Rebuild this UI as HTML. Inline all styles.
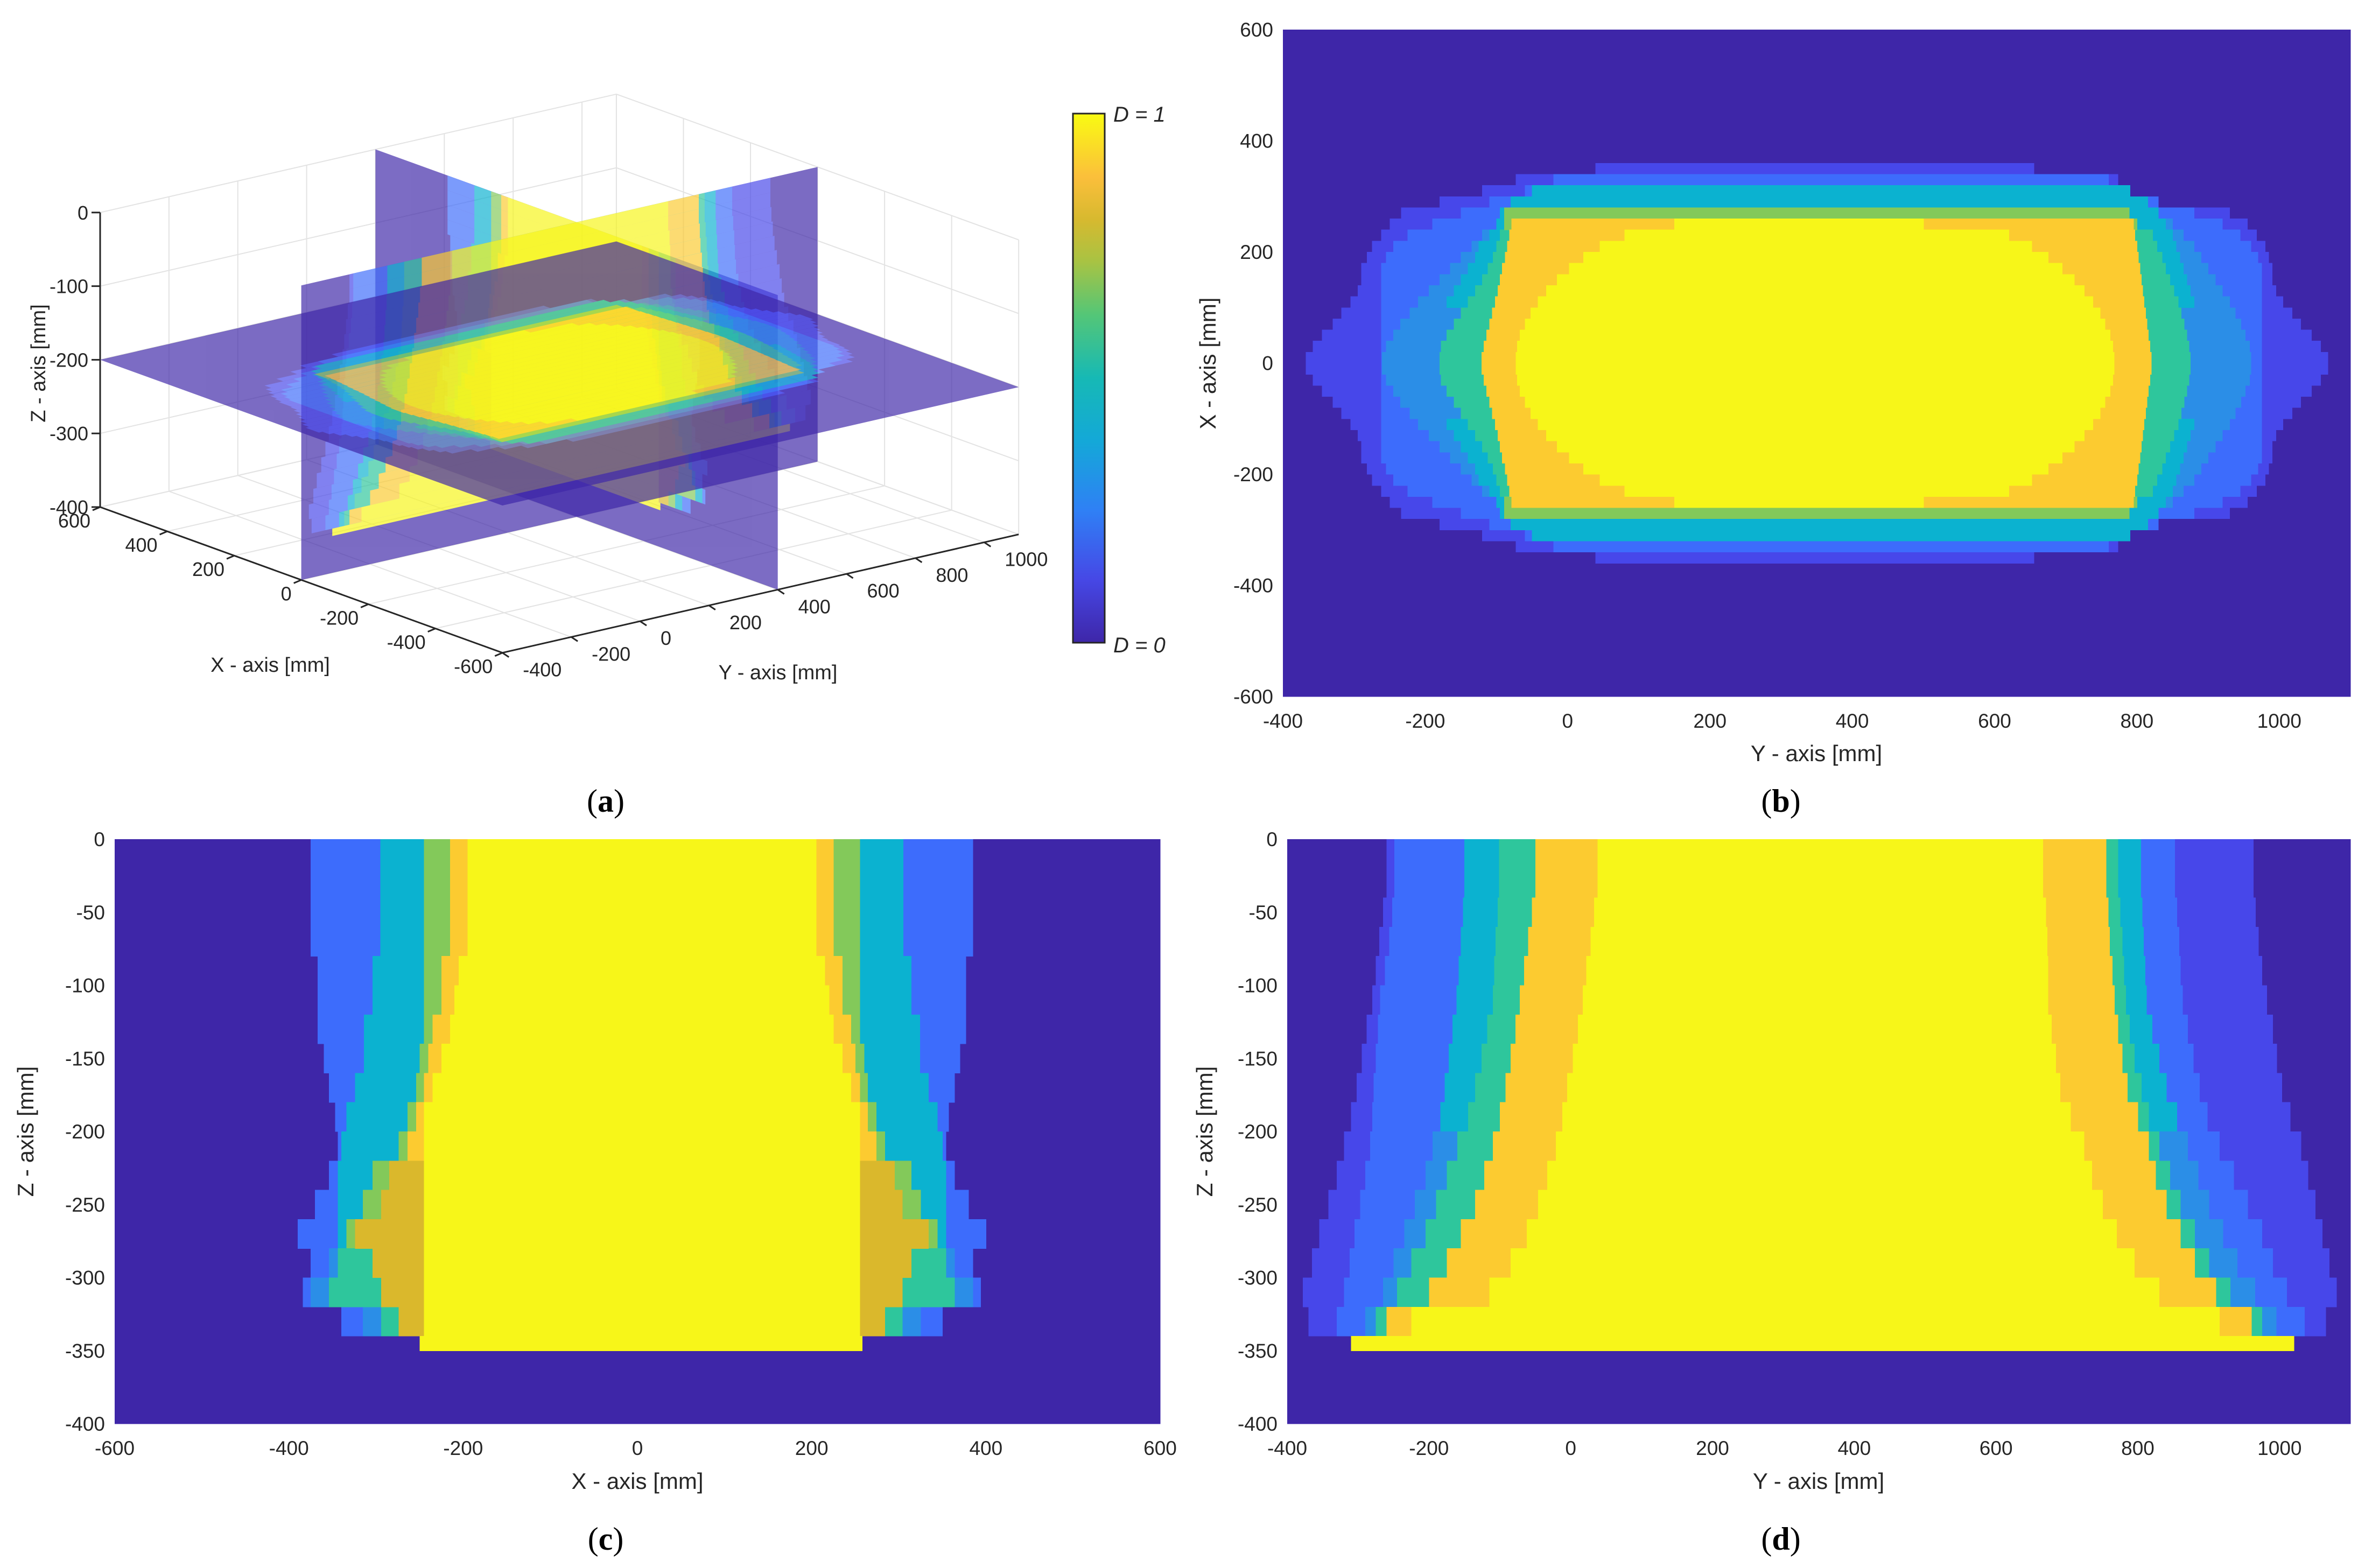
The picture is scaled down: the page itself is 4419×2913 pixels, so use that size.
<!DOCTYPE html>
<html><head><meta charset="utf-8">
<style>
html,body{margin:0;padding:0;background:#fff;}
svg{display:block;font-family:"Liberation Sans",sans-serif;}
</style></head>
<body>
<svg id="fig" xmlns="http://www.w3.org/2000/svg" width="4419" height="2913" viewBox="0 0 4419 2913">
<defs>
<linearGradient id="parula" x1="0" y1="1" x2="0" y2="0">
<stop offset="0" stop-color="#3e26a8"/><stop offset="0.12" stop-color="#4648e6"/>
<stop offset="0.25" stop-color="#2f80f5"/><stop offset="0.38" stop-color="#14a8d8"/>
<stop offset="0.5" stop-color="#16b9b5"/><stop offset="0.62" stop-color="#54c677"/>
<stop offset="0.72" stop-color="#a8c343"/><stop offset="0.8" stop-color="#d7b92f"/>
<stop offset="0.88" stop-color="#fbbf3b"/><stop offset="1" stop-color="#f9fb12"/>
</linearGradient>
</defs>
<g id="panelA"></g>
<g id="panelB" shape-rendering="crispEdges"></g>
<g id="panelC" shape-rendering="crispEdges"></g>
<g id="panelD" shape-rendering="crispEdges"></g>
<rect x="1993" y="211" width="59" height="983" fill="url(#parula)" stroke="#262626" stroke-width="3"/>
<text x="2068" y="226" font-size="40" font-style="italic" fill="#262626">D = 1</text>
<text x="2068" y="1212" font-size="40" font-style="italic" fill="#262626">D = 0</text>
<text x="1125" y="1508" font-size="60" text-anchor="middle" font-family="Liberation Serif,serif">(<tspan font-weight="bold">a</tspan>)</text>
<text x="3308" y="1508" font-size="60" text-anchor="middle" font-family="Liberation Serif,serif">(<tspan font-weight="bold">b</tspan>)</text>
<text x="1125" y="2879" font-size="60" text-anchor="middle" font-family="Liberation Serif,serif">(<tspan font-weight="bold">c</tspan>)</text>
<text x="3308" y="2879" font-size="60" text-anchor="middle" font-family="Liberation Serif,serif">(<tspan font-weight="bold">d</tspan>)</text>
<text x="3374" y="1414" font-size="42" text-anchor="middle" fill="#262626">Y - axis [mm]</text>
<text transform="translate(2258,675) rotate(-90)" font-size="42" text-anchor="middle" fill="#262626">X - axis [mm]</text>
<text x="1184" y="2766" font-size="42" text-anchor="middle" fill="#262626">X - axis [mm]</text>
<text transform="translate(62,2102) rotate(-90)" font-size="42" text-anchor="middle" fill="#262626">Z - axis [mm]</text>
<text x="3378" y="2766" font-size="42" text-anchor="middle" fill="#262626">Y - axis [mm]</text>
<text transform="translate(2252,2102) rotate(-90)" font-size="42" text-anchor="middle" fill="#262626">Z - axis [mm]</text>
<text x="502" y="1248" font-size="38" text-anchor="middle" fill="#262626">X - axis [mm]</text>
<text x="1445" y="1262" font-size="38" text-anchor="middle" fill="#262626">Y - axis [mm]</text>
<text transform="translate(84,675) rotate(-90)" font-size="38" text-anchor="middle" fill="#262626">Z - axis [mm]</text>
</svg>
<script>
// ---------- data ----------
const bXTicks=[-400,-200,0,200,400,600,800,1000];
const bYTicks=[600,400,200,0,-200,-400,-600];
const cXTicks=[-600,-400,-200,0,200,400,600];
const zTicks=[0,-50,-100,-150,-200,-250,-300,-350,-400];
const dXTicks=[-400,-200,0,200,400,600,800,1000];
const aXTicks=[600,400,200,0,-200,-400,-600];
const aYTicks=[-400,-200,0,200,400,600,800,1000];
const aZTicks=[0,-100,-200,-300,-400];

// panel (b): rows of X (|X| from row to row+20), [Yleft, Yright]
const bRows=[0,20,40,60,80,100,120,140,160,180,200,220,240,260,280,300,320,340];
const bPurple=[[-368,1068],[-358,1058],[-345,1045],[-330,1030],[-318,1018],[-305,1005],[-295,995],[-290,990],[-290,990],[-282,985],[-275,980],[-262,968],[-250,955],[-234,930],[-180,830],[-120,790],[-73,773],[39,655]];
const bBlue=[[-262,975],[-262,975],[-262,975],[-262,975],[-262,975],[-262,975],[-262,975],[-262,975],[-262,975],[-255,970],[-245,960],[-225,945],[-190,920],[-150,880],[-110,830],[-60,790],[-20,760]];
const bLight=[[-261,960],[-255,958],[-245,952],[-235,946],[-222,938],[-210,930],[-195,920],[-180,910],[-165,900],[-150,890],[-135,880],[-120,865],[-100,850]];
const bCyan=[null,null,null,null,null,[-170,880],[-160,875],[-150,870],[-140,865],[-130,860],[-125,855],[-110,850],[-100,840],[-95,830],[-80,815],[-50,790]];
const bTeal=[[-180,875],[-178,873],[-170,870],[-160,866],[-150,862],[-140,858],[-130,852],[-120,846],[-112,840],[-105,835],[-100,828],[-95,822]];
const bGreen=[null,null,null,null,null,null,null,null,null,null,null,null,[-89,800],[-89,789]];
const bOrange=[[-121,820],[-118,818],[-114,816],[-110,814],[-106,812],[-102,810],[-98,808],[-95,806],[-92,804],[-88,802],[-85,800],[-82,797],[-79,795]];
const bYellow=[[-73,768],[-71,766],[-67,762],[-60,755],[-52,748],[-42,738],[-30,726],[-15,712],[2,695],[22,675],[45,652],[80,620],[150,500]];

// panel (c): rows of Z (top of 20mm row), half-widths about centre
const cRows=[0,-20,-40,-60,-80,-100,-120,-140,-160,-180,-200,-220,-240,-260,-280,-300,-320];
const cCenter=5;
const cBlue=[380,380,380,380,372,372,372,365,359,352,349,359,375,395,380,389,345];
const cCyan=[300,300,300,300,309,309,319,319,329,339,345,349,349,349,359,380,320];
const cGreen=[250,250,250,250,250,250,250,255,259,269,279,309,320,339,349,359,299];
const cOrange=[220,220,220,220,230,230,240,245,250,259,269,290,299,329,309,299,279];
const cYellow=[200,200,200,200,210,215,220,230,240,250,250,250,250,250,250,250,250];
const cBottom=[-250,258];

// panel (d): rows of Z, [Yleft, Yright]
const dRows=[0,-20,-40,-60,-80,-100,-120,-140,-160,-180,-200,-220,-240,-260,-280,-300,-320];
const dPurple=[[-260,963],[-260,963],[-265,966],[-270,970],[-275,975],[-280,982],[-288,990],[-295,996],[-302,1003],[-310,1015],[-320,1030],[-330,1040],[-342,1050],[-355,1060],[-365,1070],[-378,1080],[-370,1065]];
const dBlue=[[-249,852],[-249,852],[-252,855],[-256,858],[-262,860],[-269,863],[-272,870],[-275,878],[-278,887],[-280,898],[-283,915],[-290,935],[-297,955],[-305,975],[-312,990],[-320,1010],[-330,1035]];
const dCyan=[[-150,804],[-150,804],[-152,806],[-155,808],[-158,810],[-161,812],[-167,820],[-172,830],[-178,840],[-184,855],[-195,870],[-205,885],[-220,900],[-235,920],[-250,940],[-265,965],[-290,995]];
const dTeal=[[-101,772],[-101,772],[-103,775],[-106,778],[-108,780],[-110,783],[-118,788],[-126,795],[-135,805],[-145,815],[-160,830],[-175,845],[-190,860],[-205,880],[-225,900],[-245,930],[-275,975]];
const dOrange=[[-50,755],[-50,755],[-55,758],[-60,760],[-66,764],[-72,767],[-78,772],[-85,778],[-92,785],[-100,800],[-110,815],[-122,825],[-135,840],[-155,860],[-175,880],[-200,910],[-260,960]];
const dYellow=[[38,666],[38,666],[33,670],[28,672],[22,673],[17,673],[10,678],[3,684],[-5,690],[-12,705],[-21,724],[-33,735],[-46,750],[-62,770],[-85,795],[-115,830],[-225,915]];
const dBottom=[-310,1020];

// ---------- colours ----------
const C={dark:'#3e26a8',purple:'#4747ea',blue:'#3d6cfc',light:'#2b8ee7',cyan:'#0bb2d0',teal:'#2ec69c',green:'#83c95a',orange:'#fccb30',dorange:'#dab82c',yellow:'#f7f619'};
const NS='http://www.w3.org/2000/svg';
function lin(d0,d1,r0,r1){return v=>r0+(v-d0)/(d1-d0)*(r1-r0);}
function rect(g,x0,y0,x1,y1,fill){
  const r=document.createElementNS(NS,'rect');
  r.setAttribute('x',Math.min(x0,x1));r.setAttribute('y',Math.min(y0,y1));
  r.setAttribute('width',Math.abs(x1-x0)+0.6);r.setAttribute('height',Math.abs(y1-y0)+0.6);
  r.setAttribute('fill',fill);
  
  
  g.appendChild(r);
}
function txt(g,x,y,s,anchor,size){
  const t=document.createElementNS(NS,'text');
  t.setAttribute('x',x);t.setAttribute('y',y);t.setAttribute('text-anchor',anchor);
  t.setAttribute('font-size',size);t.setAttribute('fill','#262626');
  t.textContent=s;
  
  
  g.appendChild(t);
}
function line(g,x1,y1,x2,y2,col,w){
  const l=document.createElementNS(NS,'line');
  l.setAttribute('x1',x1);l.setAttribute('y1',y1);l.setAttribute('x2',x2);l.setAttribute('y2',y2);
  l.setAttribute('stroke',col);l.setAttribute('stroke-width',w);
  
  
  g.appendChild(l);
}
function poly(g,pts,fill){
  const p=document.createElementNS(NS,'polygon');
  p.setAttribute('points',pts.map(q=>q[0].toFixed(1)+','+q[1].toFixed(1)).join(' '));
  p.setAttribute('fill',fill);
  
  
  g.appendChild(p);
}

// ---------- panel (b) ----------
(function(){
  const g=document.getElementById('panelB');
  const L=2383,R=4366,T=55,B=1294;
  const sx=lin(-400,1100,L,R), sy=lin(600,-600,T,B);
  rect(g,L,T,R,B,C.dark);
  const layers=[[bPurple,C.purple],[bBlue,C.blue],[bLight,C.light],[bCyan,C.cyan],[bTeal,C.teal],[bGreen,C.green],[bOrange,C.orange],[bYellow,C.yellow]];
  layers.forEach(([arr,col])=>{
    arr.forEach((v,i)=>{ if(!v) return; const r=bRows[i];
      rect(g,sx(v[0]),sy(r+20),sx(v[1]),sy(r),col);
      rect(g,sx(v[0]),sy(-r),sx(v[1]),sy(-r-20),col);
    });
  });
  bXTicks.forEach(v=>txt(g,sx(v),B+58,String(v),'middle',37));
  bYTicks.forEach(v=>txt(g,L-18,sy(v)+13,String(v),'end',37));
})();

// ---------- panel (c) ----------
(function(){
  const g=document.getElementById('panelC');
  const L=213,R=2155,T=1559,B=2645;
  const sx=lin(-600,600,L,R), sz=lin(0,-400,T,B);
  rect(g,L,T,R,B,C.dark);
  const layers=[[cBlue,'blue'],[cCyan,'cyan'],[cGreen,'green'],[cOrange,'orange'],[cYellow,'yellow']];
  layers.forEach(([arr,kind])=>{
    arr.forEach((hw,i)=>{
      let col=C[kind];
      if(kind==='cyan'&&i>=14) col=C.light;
      if(kind==='green'&&i>=14) col=C.teal;
      if(kind==='orange'&&i>=11) col=C.dorange;
      const z=cRows[i];
      rect(g,sx(cCenter-hw),sz(z),sx(cCenter+hw),sz(z-20),col);
    });
  });
  rect(g,sx(cBottom[0]),sz(-340),sx(cBottom[1]),sz(-350),C.yellow);
  cXTicks.forEach(v=>txt(g,sx(v),B+58,String(v),'middle',37));
  zTicks.forEach(v=>txt(g,L-18,sz(v)+13,String(v),'end',37));
})();

// ---------- panel (d) ----------
(function(){
  const g=document.getElementById('panelD');
  const L=2391,R=4366,T=1559,B=2645;
  const sx=lin(-400,1100,L,R), sz=lin(0,-400,T,B);
  rect(g,L,T,R,B,C.dark);
  const layers=[[dPurple,'purple'],[dBlue,'blue'],[dCyan,'cyan'],[dTeal,'teal'],[dOrange,'orange'],[dYellow,'yellow']];
  layers.forEach(([arr,kind])=>{
    arr.forEach((v,i)=>{
      let col=C[kind];
      if(kind==='cyan'&&i>=10) col=C.light;
      const z=dRows[i];
      rect(g,sx(v[0]),sz(z),sx(v[1]),sz(z-20),col);
    });
  });
  rect(g,sx(dBottom[0]),sz(-340),sx(dBottom[1]),sz(-350),C.yellow);
  dXTicks.forEach(v=>txt(g,sx(v),B+58,String(v),'middle',37));
  zTicks.forEach(v=>txt(g,L-18,sz(v)+13,String(v),'end',37));
})();

// ---------- panel (a) 3D ----------
(function(){
  const g=document.getElementById('panelA');
  const P=(X,Y,Z)=>[186+(X-600)*(-0.6227)+(Y+400)*0.6393, 942+(X-600)*(-0.2256)+(Y+400)*(-0.1466)+(Z+400)*(-1.368)];
  const grid='#e3e3e3';
  const gl=(a,b)=>{const p=P(...a),q=P(...b);line(g,p[0],p[1],q[0],q[1],grid,2);};
  aXTicks.forEach(x=>gl([x,-400,-400],[x,1100,-400]));
  aYTicks.concat([1100]).forEach(y=>gl([-600,y,-400],[600,y,-400]));
  aYTicks.concat([1100]).forEach(y=>gl([600,y,-400],[600,y,0]));
  aZTicks.forEach(z=>gl([600,-400,z],[600,1100,z]));
  aXTicks.forEach(x=>gl([x,1100,-400],[x,1100,0]));
  aZTicks.forEach(z=>gl([-600,1100,z],[600,1100,z]));
  const al=(a,b)=>{const p=P(...a),q=P(...b);line(g,p[0],p[1],q[0],q[1],'#262626',3);};
  al([600,-400,-400],[600,-400,0]);
  al([600,-400,-400],[-600,-400,-400]);
  al([-600,-400,-400],[-600,1100,-400]);
  aZTicks.forEach(z=>{const p=P(600,-400,z);line(g,p[0],p[1],p[0]-16,p[1],'#262626',3);txt(g,p[0]-22,p[1]+13,String(z),'end',36);});
  aXTicks.forEach(x=>{const p=P(x,-400,-400);line(g,p[0],p[1],p[0]-14,p[1]+6,'#262626',3);txt(g,p[0]-18,p[1]+38,String(x),'end',36);});
  aYTicks.forEach(y=>{const p=P(-600,y,-400);line(g,p[0],p[1],p[0]+12,p[1]+8,'#262626',3);txt(g,p[0]+38,p[1]+44,String(y),'start',36);});

  const q3=(gg,a,b,c,d,col)=>poly(gg,[P(...a),P(...b),P(...c),P(...d)],col);
  const gc=document.createElementNS(NS,'g');
  gc.setAttribute('opacity','0.68');
  
  
  g.appendChild(gc);
  const Yc=400;
  q3(gc,[600,Yc,0],[-600,Yc,0],[-600,Yc,-400],[600,Yc,-400],C.dark);
  [[cBlue,'blue'],[cCyan,'cyan'],[cGreen,'green'],[cOrange,'orange'],[cYellow,'yellow']].forEach(([arr,kind])=>{
    arr.forEach((hw,i)=>{let col=C[kind];if(kind==='orange'&&i>=11)col=C.dorange;const z=cRows[i];
      q3(gc,[cCenter-hw,Yc,z],[cCenter+hw,Yc,z],[cCenter+hw,Yc,z-20],[cCenter-hw,Yc,z-20],col);});
  });
  q3(gc,[cBottom[0],Yc,-340],[cBottom[1],Yc,-340],[cBottom[1],Yc,-350],[cBottom[0],Yc,-350],C.yellow);
  const gd=document.createElementNS(NS,'g');
  gd.setAttribute('opacity','0.68');
  
  
  g.appendChild(gd);
  q3(gd,[0,-400,0],[0,1100,0],[0,1100,-400],[0,-400,-400],C.dark);
  [[dPurple,'purple'],[dBlue,'blue'],[dCyan,'cyan'],[dTeal,'teal'],[dOrange,'orange'],[dYellow,'yellow']].forEach(([arr,kind])=>{
    arr.forEach((v,i)=>{const z=dRows[i];
      q3(gd,[0,v[0],z],[0,v[1],z],[0,v[1],z-20],[0,v[0],z-20],C[kind]);});
  });
  q3(gd,[0,dBottom[0],-340],[0,dBottom[1],-340],[0,dBottom[1],-350],[0,dBottom[0],-350],C.yellow);
  const gb=document.createElementNS(NS,'g');
  gb.setAttribute('opacity','0.68');
  
  
  g.appendChild(gb);
  const Zc=-200;
  q3(gb,[600,-400,Zc],[600,1100,Zc],[-600,1100,Zc],[-600,-400,Zc],C.dark);
  [[bPurple,C.purple],[bBlue,C.blue],[bLight,C.light],[bCyan,C.cyan],[bTeal,C.teal],[bGreen,C.green],[bOrange,C.orange],[bYellow,C.yellow]].forEach(([arr,col])=>{
    arr.forEach((v,i)=>{if(!v)return;const r=bRows[i];
      q3(gb,[r,v[0],Zc],[r,v[1],Zc],[r+20,v[1],Zc],[r+20,v[0],Zc],col);
      q3(gb,[-r,v[0],Zc],[-r,v[1],Zc],[-r-20,v[1],Zc],[-r-20,v[0],Zc],col);});
  });
})();
</script>
</body></html>
